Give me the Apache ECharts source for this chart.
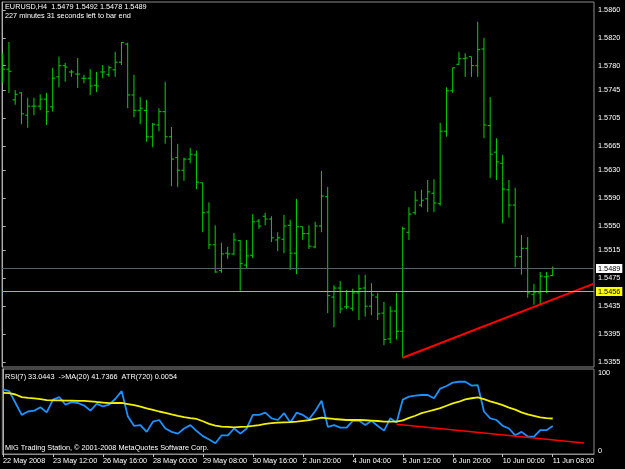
<!DOCTYPE html>
<html>
<head>
<meta charset="utf-8">
<script src="https://cdn.jsdelivr.net/npm/echarts@6/dist/echarts.min.js"></script>
<style>
html, body { margin:0; padding:0; background:#000; }
#chart { width:625px; height:469px; }
</style>
</head>
<body>
<div id="chart"></div>
<script>
// EURUSD H4 bars, index 0 = first bar on the left
var opens  = [1.5788,1.5775,1.5731,1.5741,1.5709,1.5722,1.5722,1.5732,1.5721,1.5764,1.5780,1.5771,1.5768,1.5762,1.5762,1.5752,1.5771,1.5767,1.5774,1.5785,
              1.5811,1.5738,1.5716,1.5716,1.5678,1.5695,1.5714,1.5678,1.5648,1.5630,1.5646,1.5652,1.5612,1.5570,1.5523,1.5486,1.5511,1.5510,1.5529,1.5494,
              1.5508,1.5557,1.5564,1.5560,1.5530,1.5531,1.5551,1.5511,1.5549,1.5539,1.5520,1.5550,1.5592,1.5448,1.5461,1.5434,1.5432,1.5454,1.5461,1.5435,
              1.5448,1.5425,1.5388,1.5428,1.5399,1.5541,1.5569,1.5580,1.5589,1.5597,1.5582,1.5686,1.5744,1.5782,1.5790,1.5793,1.5780,1.5804,1.5694,1.5656,
              1.5640,1.5602,1.5580,1.5506,1.5518,1.5452,1.5454,1.5477,1.5479];
var highs  = [1.5798,1.5814,1.5745,1.5742,1.5734,1.5734,1.5739,1.5741,1.5777,1.5793,1.5784,1.5774,1.5791,1.5767,1.5775,1.5771,1.5781,1.5780,1.5800,1.5814,
              1.5813,1.5767,1.5735,1.5731,1.5698,1.5719,1.5757,1.5692,1.5668,1.5648,1.5662,1.5658,1.5612,1.5584,1.5551,1.5526,1.5520,1.5540,1.5530,1.5530,
              1.5567,1.5560,1.5569,1.5564,1.5541,1.5566,1.5559,1.5589,1.5549,1.5551,1.5556,1.5629,1.5606,1.5465,1.5471,1.5458,1.5460,1.5480,1.5480,1.5468,
              1.5454,1.5441,1.5435,1.5454,1.5549,1.5577,1.5600,1.5602,1.5616,1.5617,1.5698,1.5749,1.5777,1.5800,1.5798,1.5793,1.5843,1.5820,1.5735,1.5676,
              1.5652,1.5616,1.5605,1.5537,1.5534,1.5467,1.5484,1.5484,1.5492];
var lows   = [1.5755,1.5741,1.5724,1.5696,1.5691,1.5709,1.5716,1.5695,1.5714,1.5749,1.5757,1.5764,1.5748,1.5755,1.5738,1.5742,1.5762,1.5764,1.5764,1.5781,
              1.5719,1.5706,1.5696,1.5671,1.5663,1.5686,1.5668,1.5607,1.5606,1.5615,1.5640,1.5603,1.5541,1.5517,1.5483,1.5483,1.5503,1.5508,1.5457,1.5490,
              1.5504,1.5546,1.5551,1.5527,1.5514,1.5511,1.5487,1.5481,1.5530,1.5517,1.5518,1.5541,1.5425,1.5405,1.5425,1.5431,1.5428,1.5415,1.5420,1.5422,
              1.5415,1.5379,1.5382,1.5387,1.5361,1.5530,1.5566,1.5577,1.5570,1.5570,1.5579,1.5678,1.5741,1.5781,1.5764,1.5764,1.5764,1.5676,1.5619,1.5616,
              1.5554,1.5562,1.5491,1.5480,1.5447,1.5437,1.5438,1.5454,1.5478];
var closes = [1.5775,1.5772,1.5739,1.5711,1.5722,1.5722,1.5732,1.5714,1.5762,1.5780,1.5778,1.5771,1.5768,1.5762,1.5751,1.5751,1.5771,1.5777,1.5785,1.5813,
              1.5738,1.5716,1.5719,1.5678,1.5696,1.5714,1.5678,1.5646,1.5630,1.5646,1.5653,1.5613,1.5569,1.5523,1.5484,1.5510,1.5510,1.5530,1.5496,1.5507,
              1.5556,1.5550,1.5560,1.5533,1.5533,1.5550,1.5511,1.5549,1.5539,1.5521,1.5550,1.5593,1.5450,1.5461,1.5431,1.5434,1.5454,1.5460,1.5435,1.5451,
              1.5424,1.5387,1.5428,1.5399,1.5546,1.5567,1.5587,1.5587,1.5599,1.5583,1.5686,1.5744,1.5777,1.5790,1.5791,1.5780,1.5803,1.5695,1.5653,1.5642,
              1.5603,1.5580,1.5506,1.5518,1.5454,1.5455,1.5478,1.5478,1.5489];

// RSI(7) and its MA(20)
var rsiValues = [76,74,60,46,50,51,55,49,64,67,58,61,60,57,51,59,56,58,65,74,
                 44,33,34,26,38,40,30,26,24,30,34,27,21,17,12.6,22,22,30,24,30,
                 46,46,48.6,42,40,48,37,48.6,46,41,50.6,62.7,32,34,31,31,39,39,34,39,
                 33,27.5,42,37,64,67.5,68.6,69.4,69.4,65.5,77,80,84,85,85,80.5,81,50,42,40,
                 33,30,22,26,20.5,20.5,28,28,33.04];
var maValues  = [72,71.5,70,67,66,65.5,64.5,63.5,63.2,63,62.8,62.7,62.5,62.4,62,61.2,60.5,59.8,60,60.2,
                 58.8,57.4,55.6,53.7,52,50,48.3,46.5,44.8,43.3,42.2,41.2,38.5,35.5,33.5,32.2,31.8,31.4,31.8,32.2,
                 33,34,35.4,36.3,36.8,37.3,37.6,38,39,39.8,41.2,42.7,42,41.2,40.6,40,40,40,39.7,39.3,
                 38.8,38.2,38,38,39.5,42.5,45,48,50,52,54,56.8,59.5,61.5,64.3,65.6,66.7,64.5,62,59.8,
                 57.5,54.5,52.2,49,46.5,44.8,43.1,42.3,41.74];

// axis ticks
var priceTicks = [1.5860,1.5820,1.5780,1.5745,1.5705,1.5665,1.5630,1.5590,1.5550,1.5515,1.5475,1.5435,1.5395,1.5355];
var rsiTicks = [0, 100];
var timeTickIdx = [0, 8, 16, 24, 32, 40, 48, 56, 64, 72, 80, 88];
var timeLabels = ['22 May 2008','23 May 12:00','26 May 16:00','28 May 00:00','29 May 08:00','30 May 16:00',
                  '2 Jun 20:00','4 Jun 04:00','5 Jun 12:00','6 Jun 20:00','10 Jun 00:00','11 Jun 08:00'];

// objects on the chart
var bidPrice = 1.5489;
var levelPrice = 1.5456;
var mainTrend = [[64, 1.5361], [94.5, 1.5467]];
var rsiTrend = [[63, 35], [93, 13]];

var headerText = 'EURUSD,H4  1.5479 1.5492 1.5478 1.5489';
var timerText = '227 minutes 31 seconds left to bar end';
var rsiText = 'RSI(7) 33.0443  ->MA(20) 41.7366  ATR(720) 0.0054';
var copyText = 'MIG Trading Station, \u00a9 2001-2008 MetaQuotes Software Corp.';

var font = 'Liberation Sans';
var fs = 7.3;
var barColor = '#00d400';
var frameColor = '#8c8c8c';

var barData = opens.map(function(o, i){
	return [i, o, highs[i], lows[i], closes[i]];
});
var rsiData = rsiValues.map(function(v, i){ return [i, v]; });
var maData = maValues.map(function(v, i){ return [i, v]; });

var renderBar = function(params, api){
	var i = api.value(0);
	var o = api.coord([i, api.value(1)]);
	var h = api.coord([i, api.value(2)]);
	var l = api.coord([i, api.value(3)]);
	var c = api.coord([i, api.value(4)]);
	var x = h[0];
	var st = {stroke:barColor, lineWidth:1};
	return {
		type:'group',
		children:[
			{type:'line', shape:{x1:x, y1:h[1], x2:x, y2:l[1]}, style:st},
			{type:'line', shape:{x1:x - 2.5, y1:o[1], x2:x, y2:o[1]}, style:st},
			{type:'line', shape:{x1:x, y1:c[1], x2:x + 2.5, y2:c[1]}, style:st}
		]
	};
};

var txt = function(text, top){
	return {
		text:text, left:5, top:top, padding:0,
		textStyle:{color:'#ffffff', fontSize:fs, fontWeight:'normal', fontFamily:font}
	};
};

var priceLabel = function(bg){
	return {
		show:true, position:'end', distance:2,
		formatter:function(p){ return Number(p.value).toFixed(4); },
		color:'#000', backgroundColor:bg, padding:[1, 2, 1, 2],
		fontSize:fs, fontFamily:font
	};
};

var xMin = -0.11, xMax = 94.61;

var chart = echarts.init(document.getElementById('chart'), null, {renderer:'canvas'});
chart.setOption({
	backgroundColor:'#000000',
	animation:false,
	title:[
		txt(headerText, 3),
		txt(timerText, 12),
		txt(rsiText, 373),
		txt(copyText, 444)
	],
	grid:[
		{left:2, right:31, top:2, height:365, show:true, borderColor:frameColor, borderWidth:1, backgroundColor:'transparent'},
		{left:2, right:31, top:369, height:85, show:true, borderColor:frameColor, borderWidth:1, backgroundColor:'transparent'}
	],
	xAxis:[
		{gridIndex:0, type:'value', min:xMin, max:xMax, show:false},
		{
			gridIndex:1, type:'value', min:xMin, max:xMax,
			axisLine:{show:true, lineStyle:{color:frameColor}},
			axisTick:{show:true, customValues:timeTickIdx, length:3, lineStyle:{color:'#c0c0c0'}},
			splitLine:{show:false},
			axisLabel:{
				customValues:timeTickIdx, align:'left', margin:3,
				color:'#ffffff', fontSize:fs, fontFamily:font,
				formatter:function(v){
					var k = timeTickIdx.indexOf(Math.round(v));
					return k >= 0 ? timeLabels[k] : '';
				}
			}
		}
	],
	yAxis:[
		{
			gridIndex:0, type:'value', position:'right', min:1.53477, max:1.58714,
			axisLine:{show:true, lineStyle:{color:'#b0b0b0'}},
			axisTick:{show:true, customValues:priceTicks, length:3, lineStyle:{color:'#b0b0b0'}},
			splitLine:{show:false},
			axisLabel:{
				customValues:priceTicks, margin:4, color:'#ffffff', fontSize:fs, fontFamily:font,
				formatter:function(v){ return v.toFixed(4); }
			}
		},
		{
			gridIndex:1, type:'value', position:'right', min:0, max:100,
			axisLine:{show:true, lineStyle:{color:'#b0b0b0'}},
			axisTick:{show:false},
			splitLine:{show:false},
			axisLabel:{
				customValues:rsiTicks, margin:4, color:'#ffffff', fontSize:fs, fontFamily:font,
				verticalAlignMaxLabel:'top', verticalAlignMinLabel:'bottom',
				formatter:function(v){ return String(Math.round(v)); }
			}
		}
	],
	series:[
		{
			type:'custom', name:'bars', xAxisIndex:0, yAxisIndex:0,
			data:barData, encode:{x:0, y:[1, 2, 3, 4]},
			renderItem:renderBar, clip:true, silent:true, z:3
		},
		{
			type:'line', name:'trend', xAxisIndex:0, yAxisIndex:0,
			data:mainTrend, showSymbol:false, silent:true, z:4,
			lineStyle:{color:'#ff0000', width:2},
			markLine:{
				silent:true, symbol:'none', animation:false, precision:4,
				data:[
					{yAxis:bidPrice, lineStyle:{color:'#56616c', width:1, type:'solid'}, label:priceLabel('#ffffff')},
					{yAxis:levelPrice, lineStyle:{color:'#c0c000', width:1, type:'solid'}, label:priceLabel('#ffff00')}
				]
			}
		},
		{
			type:'line', name:'RSI', xAxisIndex:1, yAxisIndex:1,
			data:rsiData, showSymbol:false, silent:true, z:3,
			lineStyle:{color:'#1e90ff', width:1.8}
		},
		{
			type:'line', name:'MA', xAxisIndex:1, yAxisIndex:1,
			data:maData, showSymbol:false, silent:true, z:3,
			lineStyle:{color:'#f0f000', width:1.8}
		},
		{
			type:'line', name:'rsiTrend', xAxisIndex:1, yAxisIndex:1,
			data:rsiTrend, showSymbol:false, silent:true, z:4,
			lineStyle:{color:'#ff0000', width:1.6}
		}
	]
});
</script>
</body>
</html>
